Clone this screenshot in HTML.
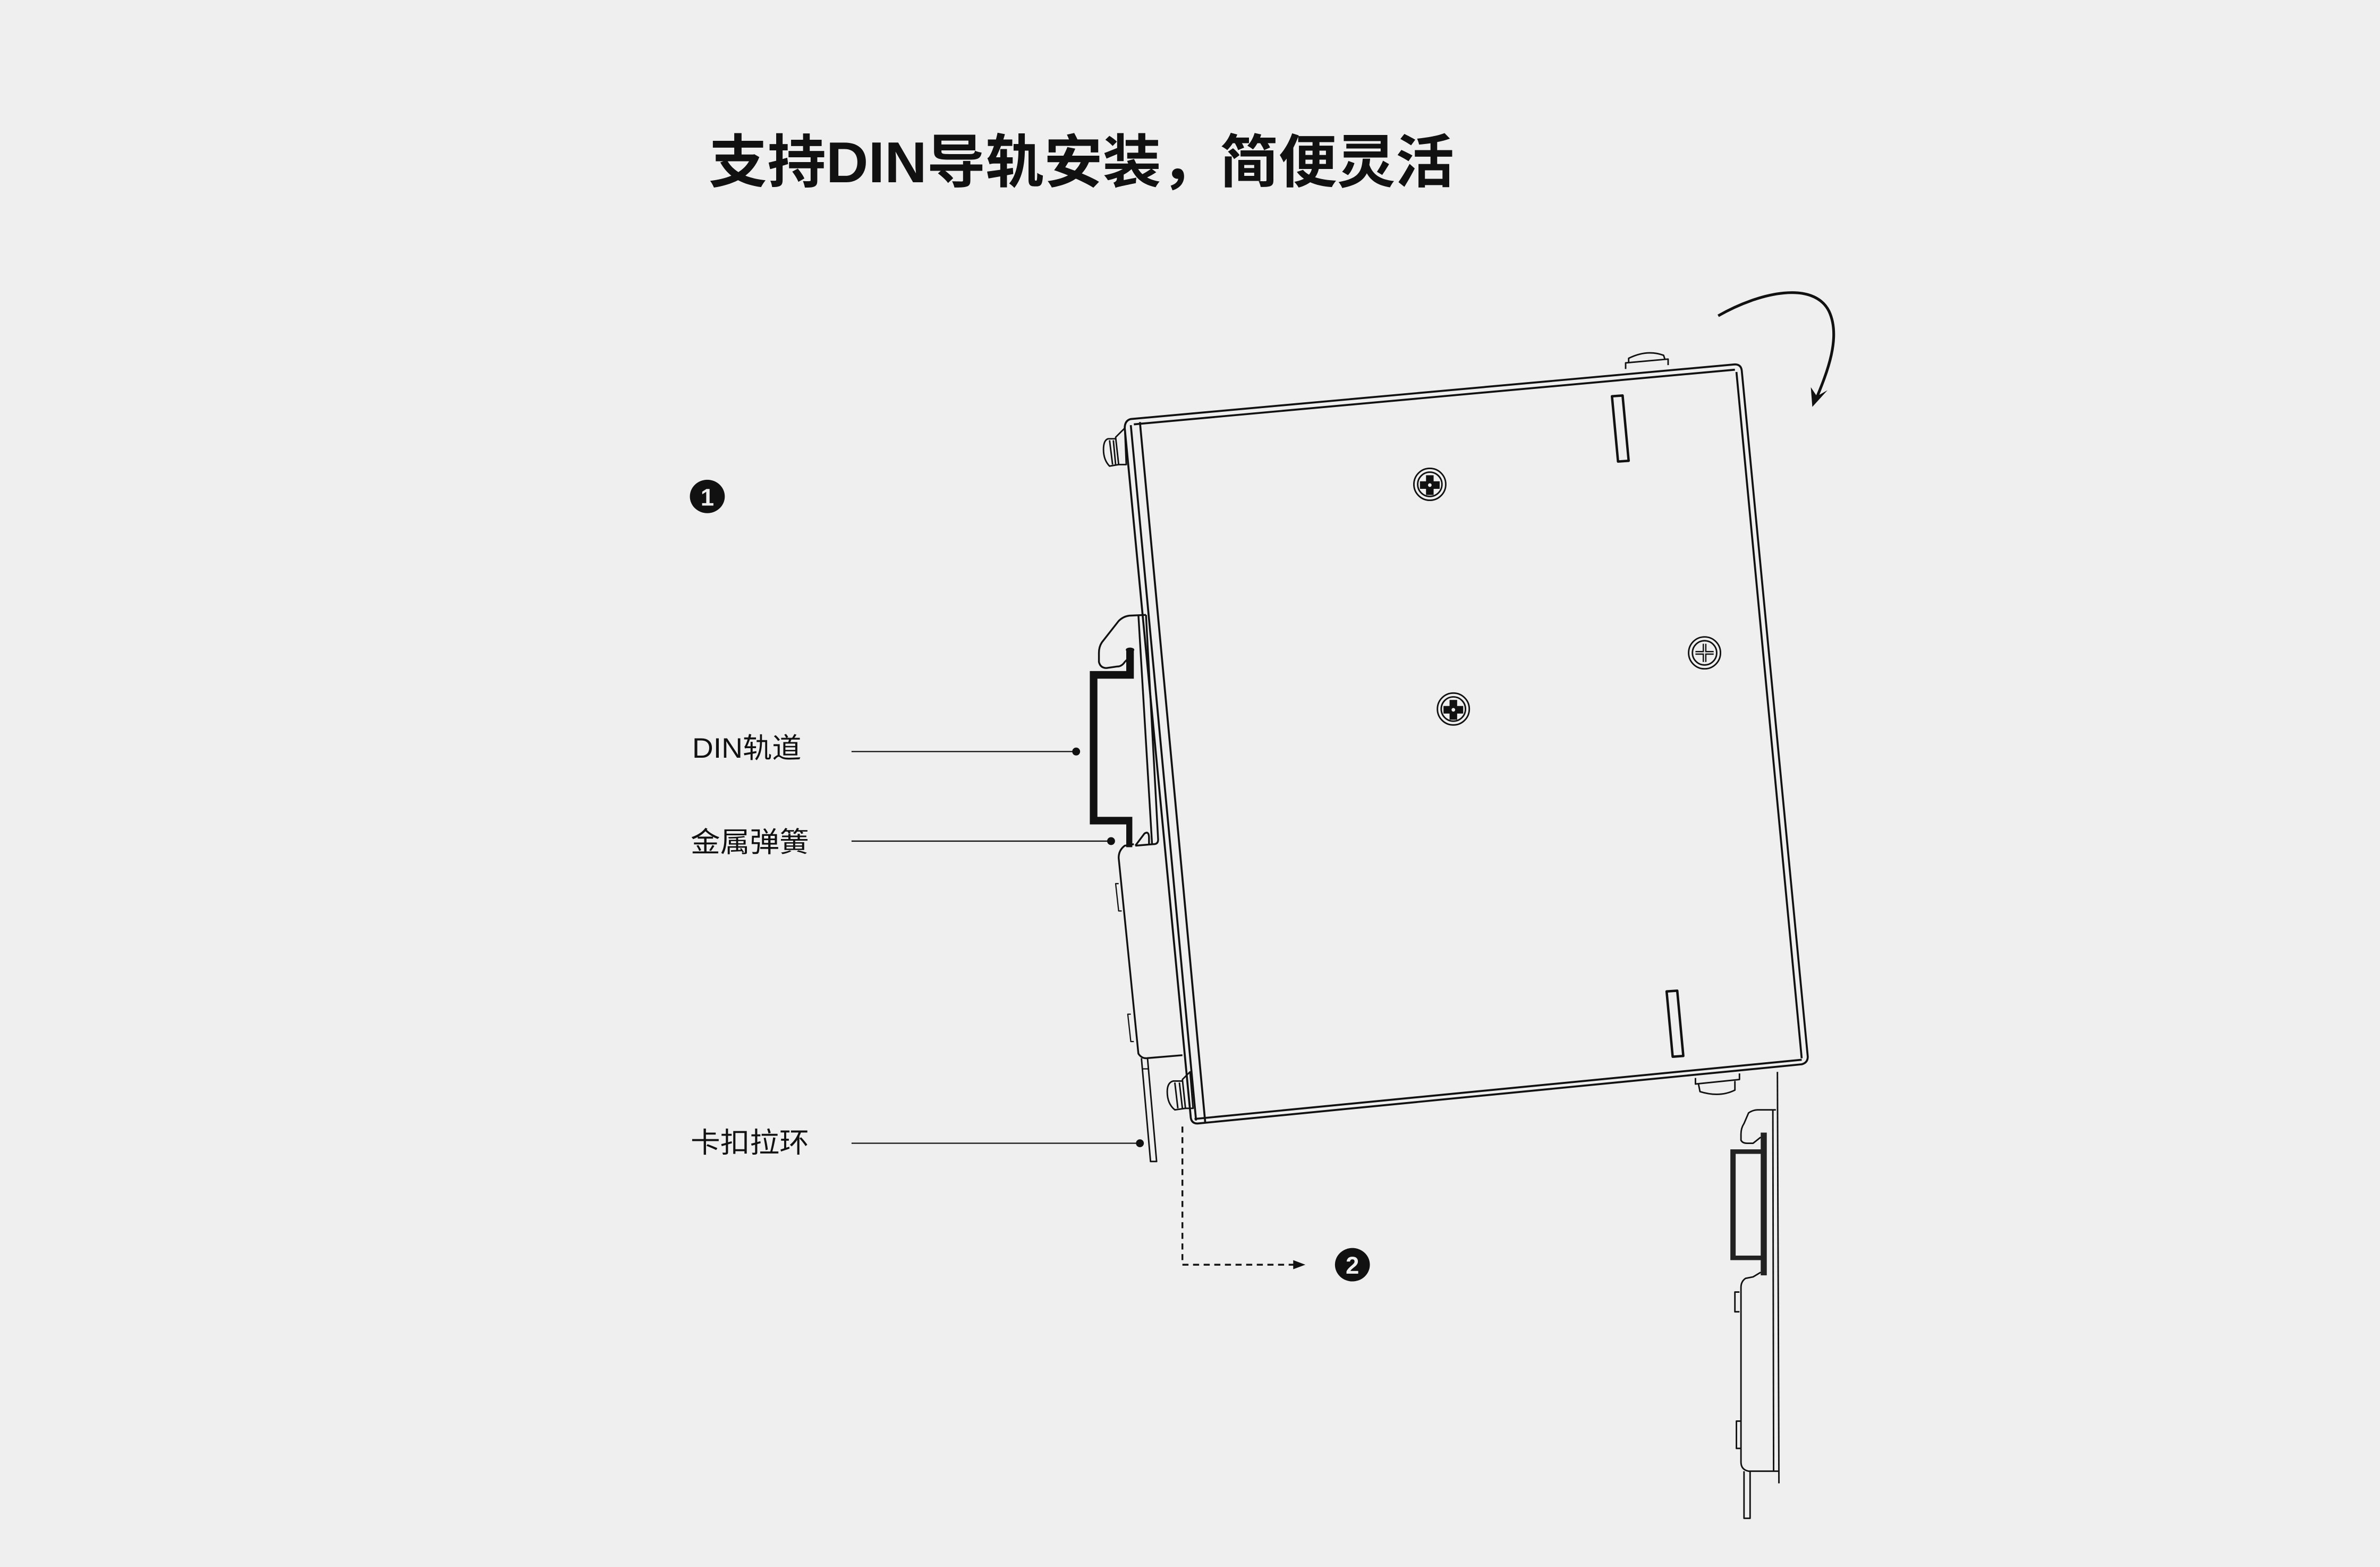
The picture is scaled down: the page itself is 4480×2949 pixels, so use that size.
<!DOCTYPE html>
<html><head><meta charset="utf-8">
<style>
html,body{margin:0;padding:0;background:#efefef;}
body{width:4480px;height:2949px;overflow:hidden;}
svg{display:block;}
text{font-family:"Liberation Sans","Noto Sans CJK SC",sans-serif;}
</style></head>
<body>
<svg width="4480" height="2949" viewBox="0 0 1568 1032.1" preserveAspectRatio="none" xmlns="http://www.w3.org/2000/svg">
<rect width="1568" height="1033" fill="#efefef"/>
<text x="467" y="120" font-size="38" font-weight="bold" fill="#111" textLength="491" lengthAdjust="spacingAndGlyphs">支持DIN导轨安装，简便灵活</text>

<ellipse cx="466" cy="327" rx="11.5" ry="11" fill="#111"/>
<text x="466" y="333" font-size="16" font-weight="bold" fill="#efefef" text-anchor="middle" font-family="Liberation Serif">1</text>
<ellipse cx="891" cy="833" rx="11.5" ry="11" fill="#111"/>
<text x="891" y="839" font-size="16" font-weight="bold" fill="#efefef" text-anchor="middle" font-family="Liberation Serif">2</text>

<g font-size="18.5" fill="#111">
<text x="456" y="499" textLength="72" lengthAdjust="spacingAndGlyphs">DIN轨道</text>
<text x="455" y="561" textLength="78" lengthAdjust="spacingAndGlyphs">金属弹簧</text>
<text x="455" y="759" textLength="78" lengthAdjust="spacingAndGlyphs">卡扣拉环</text>
</g>
<g stroke="#111" stroke-width="0.8">
<line x1="561" y1="495" x2="708" y2="495"/>
<line x1="561" y1="554" x2="731" y2="554"/>
<line x1="561" y1="753" x2="750" y2="753"/>
</g>
<g fill="#111">
<circle cx="709" cy="495" r="2.6"/>
<circle cx="732" cy="554" r="2.6"/>
<circle cx="751" cy="753" r="2.6"/>
</g>

<path d="M779,742 L779,833 L854,833" fill="none" stroke="#111" stroke-width="1.2" stroke-dasharray="4,3"/>
<path d="M860,833 L852,830 L852,836 Z" fill="#111"/>

<path d="M1132,208 C1160,192 1195,185 1205,205 C1213,222 1204,245 1196,264" fill="none" stroke="#111" stroke-width="1.8"/>
<path d="M1194,268 L1193,255 L1197,261 L1204,257 Z" fill="#111"/>

<g fill="none" stroke="#111" stroke-width="1.3" stroke-linejoin="round">
<path d="M745,276 L1143,240 Q1147,240 1147.5,244 L1191,696 Q1191,700 1187,701 L789,740 Q785,740 784.5,736 L741,282 Q741,277 745,276 Z"/>
<path d="M747,279.5 L1143,243.5"/>
<path d="M1144,245 L1187,697"/>
<path d="M787,737 L1187,698"/>
<path d="M751,278 L794,739"/>
<path d="M745,280 L788,738"/>

<path d="M741,282 L742,306 L737,306 L735,288 Z" stroke-width="1"/>
<path d="M735,289 L730,289 Q727,290 727,296 Q727,303 731,307 L737,306" stroke-width="1"/>
<path d="M731,290 L733,306 M733.5,290 L735,306" stroke-width="1"/>
<path d="M784,706 L786,730 L781,730 L779,711 Z" stroke-width="1"/>
<path d="M779,712 L773,712 Q769,713 769,719 Q769,727 774,731 L781,730" stroke-width="1"/>
<path d="M774,713 L776,730 M777,713 L779,730" stroke-width="1"/>
<path d="M1071,243 L1071,239 L1099,236.5 L1099,240.5 M1073,239 L1073,236 Q1085,230 1096,234 L1097,237" stroke-width="1"/>
<path d="M1117,710 L1117,714 L1146,711 L1146,707 M1119,714 L1120,719 Q1133,723 1143,718 L1143,712" stroke-width="1"/>

<path d="M1062,261 L1069,260.5 L1073,303.5 L1066,304 Z" stroke-width="1.6"/>
<path d="M1098,653 L1105,652.5 L1109,695.5 L1102,696 Z" stroke-width="1.6"/>

<circle cx="942" cy="319" r="10.5" stroke-width="1"/>
<circle cx="942" cy="319" r="8" stroke-width="1"/>
<circle cx="957.5" cy="467" r="10.5" stroke-width="1"/>
<circle cx="957.5" cy="467" r="8" stroke-width="1"/>
<circle cx="1123" cy="430" r="10.5" stroke-width="1"/>
<circle cx="1123" cy="430" r="8" stroke-width="1"/>
<path d="M1123,424 L1123,436 M1117,430 L1129,430" stroke-width="2.5"/>
<path d="M1123,424 L1123,436 M1117,430 L1129,430" stroke="#efefef" stroke-width="0.8"/>
</g>
<g fill="#111">
<path d="M939.5,313 h5 v4 h4 v5 h-4 v4 h-5 v-4 h-4 v-5 h4 z"/>
<path d="M955,461 h5 v4 h4 v5 h-4 v4 h-5 v-4 h-4 v-5 h4 z"/>
</g>
<circle cx="942" cy="319.5" r="1.2" fill="#efefef"/>
<circle cx="957.5" cy="467.5" r="1.2" fill="#efefef"/>

<g fill="none" stroke="#111" stroke-width="1.2" stroke-linejoin="round">
<path d="M755,405 L744,405.5 Q740,406 737,409 L726,423 Q724,426 724,430 L724,436 Q725,440 729,440 L736,439 Q739,439 741,436 L745,432"/>
<path d="M750,405 L759,556"/>
<path d="M755,405 L763,553 Q763,556 760,556 L748,557"/>
<path d="M747,556 L741,557 Q737,560 737,565 L750,694 Q752,697 755,697 L779,695"/>
<path d="M748,557 L754,549 Q757,547 757,552 L757,556"/>
<path d="M752,697 L758,765 L762,765 L756,697" stroke-width="1"/>
<path d="M753,704 L757,704" stroke-width="0.8"/>
<path d="M737,582 L735,582 L737,600 L739,600" stroke-width="0.8"/>
<path d="M745,668 L743,668 L745,686 L747,686" stroke-width="0.8"/>
</g>
<path d="M742,428 L747,428 L747,447 L723,447 L723,538 L746,538 L746,558 L742,558 L742,543 L718,543 L718,442 L742,442 Z" fill="#111"/>
<ellipse cx="744.5" cy="428" rx="2.8" ry="1.5" fill="#111"/>

<g fill="none" stroke="#111" stroke-width="1" stroke-linejoin="round">
<path d="M1171,706 L1172,977"/>
<path d="M1168,731 L1168.5,969"/>
<path d="M1170,731 L1158,731 Q1155,731 1152,733 L1149,740 Q1147,743 1147,747 L1147,751 Q1148,753 1151,753 L1155,753 L1160,749"/>
<path d="M1172,969 L1152,969 Q1147,968 1147,963 L1147,848 Q1147,844 1150,842 L1155,841 L1160,838"/>
<path d="M1146,851 L1143,851 L1143,864 L1146,864"/>
<path d="M1147,936 L1144,936 L1144,954 L1147,954"/>
<path d="M1149,969 L1149,1000 L1153,1000 L1153,969"/>
</g>
<path d="M1160,746 L1164,746 L1164,840 L1160,840 L1160,830 L1140,830 L1140,757 L1160,757 Z" fill="#222"/>
<rect x="1143.5" y="760" width="16.5" height="67" fill="#efefef"/>
</svg>
</body></html>
